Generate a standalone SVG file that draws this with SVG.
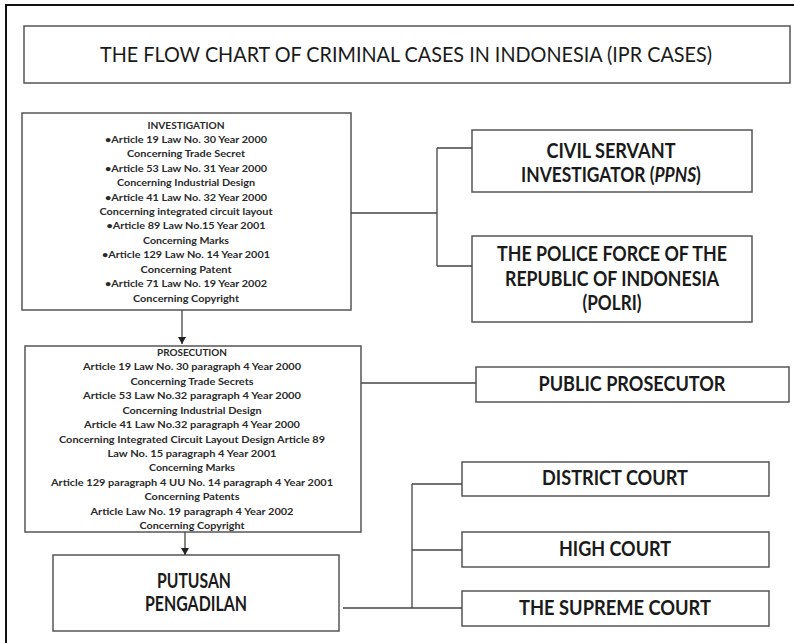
<svg xmlns="http://www.w3.org/2000/svg" width="794" height="643" viewBox="0 0 794 643">
  <style>
    .frame { fill: none; stroke: #111; stroke-width: 2; }
    .box { fill: #fff; stroke: #555; stroke-width: 1.5; }
    .wire { fill: none; stroke: #444; stroke-width: 1.3; }
    text { font-family: Lato, "Liberation Sans", sans-serif; fill: #1a1a1a; text-anchor: middle; }
    .title { font-size: 21px; font-weight: 400; }
    .lbl { font-size: 20px; font-weight: 700; }
    .small { font-size: 10px; font-weight: 700; fill: #2a2a2a; }
  </style>
  <defs>
    <marker id="arrow" markerUnits="userSpaceOnUse" markerWidth="8" markerHeight="8" refX="7" refY="4" orient="auto">
      <path d="M0,0 L7,4 L0,8 Z" fill="#222"/>
    </marker>
  </defs>

  <rect width="794" height="643" fill="#fff"/>
  <!-- page frame (top and left edges) -->
  <path class="frame" d="M6,643 V5 H794"/>

  <g id="title">
    <rect class="box" x="24" y="26" width="766" height="57"/>
    <text class="title" x="406" y="62" textLength="612" lengthAdjust="spacingAndGlyphs">THE FLOW CHART OF CRIMINAL CASES IN INDONESIA (IPR CASES)</text>
  </g>

  <g id="investigation">
    <rect class="box" x="22" y="113" width="329" height="197"/>
    <text class="small" x="186" y="128.5" textLength="77" lengthAdjust="spacingAndGlyphs">INVESTIGATION</text>
    <text class="small" x="186" y="142.9" textLength="162" lengthAdjust="spacingAndGlyphs">•Article 19 Law No. 30 Year 2000</text>
    <text class="small" x="186" y="157.3" textLength="118" lengthAdjust="spacingAndGlyphs">Concerning Trade Secret</text>
    <text class="small" x="186" y="171.8" textLength="162" lengthAdjust="spacingAndGlyphs">•Article 53 Law No. 31 Year 2000</text>
    <text class="small" x="186" y="186.2" textLength="138" lengthAdjust="spacingAndGlyphs">Concerning Industrial Design</text>
    <text class="small" x="186" y="200.6" textLength="162" lengthAdjust="spacingAndGlyphs">•Article 41 Law No. 32 Year 2000</text>
    <text class="small" x="186" y="215.0" textLength="173" lengthAdjust="spacingAndGlyphs">Concerning integrated circuit layout</text>
    <text class="small" x="186" y="229.4" textLength="159" lengthAdjust="spacingAndGlyphs">•Article 89 Law No.15 Year 2001</text>
    <text class="small" x="186" y="243.9" textLength="86" lengthAdjust="spacingAndGlyphs">Concerning Marks</text>
    <text class="small" x="186" y="258.3" textLength="168" lengthAdjust="spacingAndGlyphs">•Article 129 Law No. 14 Year 2001</text>
    <text class="small" x="186" y="272.7" textLength="91" lengthAdjust="spacingAndGlyphs">Concerning Patent</text>
    <text class="small" x="186" y="287.1" textLength="162" lengthAdjust="spacingAndGlyphs">•Article 71 Law No. 19 Year 2002</text>
    <text class="small" x="186" y="301.5" textLength="106" lengthAdjust="spacingAndGlyphs">Concerning Copyright</text>
  </g>

  <g id="ppns">
    <rect class="box" x="472" y="130" width="280" height="62"/>
    <text class="lbl" x="611" y="158" textLength="129" lengthAdjust="spacingAndGlyphs">CIVIL SERVANT</text>
    <!-- narrowed horizontally so the mixed upright/italic line keeps one text run -->
    <text class="lbl" transform="translate(611,182) scale(0.87,1)" x="0" y="0">INVESTIGATOR (<tspan font-style="italic">PPNS</tspan>)</text>
  </g>

  <g id="polri">
    <rect class="box" x="472" y="236" width="280" height="86"/>
    <text class="lbl" x="612" y="261" textLength="230" lengthAdjust="spacingAndGlyphs">THE POLICE FORCE OF THE</text>
    <text class="lbl" x="612" y="286" textLength="214" lengthAdjust="spacingAndGlyphs">REPUBLIC OF INDONESIA</text>
    <text class="lbl" x="612" y="310" textLength="59" lengthAdjust="spacingAndGlyphs">(POLRI)</text>
  </g>

  <g id="prosecution">
    <rect class="box" x="25" y="346" width="336" height="186"/>
    <text class="small" x="192" y="356" textLength="70" lengthAdjust="spacingAndGlyphs">PROSECUTION</text>
    <text class="small" x="192" y="370.4" textLength="218" lengthAdjust="spacingAndGlyphs">Article 19 Law No. 30 paragraph  4 Year 2000</text>
    <text class="small" x="192" y="384.8" textLength="123" lengthAdjust="spacingAndGlyphs">Concerning Trade Secrets</text>
    <text class="small" x="192" y="399.3" textLength="218" lengthAdjust="spacingAndGlyphs">Article 53 Law No.32 paragraph   4 Year 2000</text>
    <text class="small" x="192" y="413.7" textLength="139" lengthAdjust="spacingAndGlyphs">Concerning Industrial Design</text>
    <text class="small" x="192" y="428.1" textLength="216" lengthAdjust="spacingAndGlyphs">Article 41 Law No.32 paragraph  4 Year 2000</text>
    <text class="small" x="192" y="442.5" textLength="266" lengthAdjust="spacingAndGlyphs">Concerning Integrated Circuit Layout Design Article 89</text>
    <text class="small" x="192" y="456.9" textLength="169" lengthAdjust="spacingAndGlyphs">Law No. 15 paragraph  4 Year 2001</text>
    <text class="small" x="192" y="471.4" textLength="86" lengthAdjust="spacingAndGlyphs">Concerning Marks</text>
    <text class="small" x="192" y="485.8" textLength="282" lengthAdjust="spacingAndGlyphs">Article 129 paragraph  4 UU No. 14 paragraph  4 Year 2001</text>
    <text class="small" x="192" y="500.2" textLength="95" lengthAdjust="spacingAndGlyphs">Concerning Patents</text>
    <text class="small" x="192" y="514.6" textLength="203" lengthAdjust="spacingAndGlyphs">Article Law No. 19 paragraph  4 Year 2002</text>
    <text class="small" x="192" y="529" textLength="105" lengthAdjust="spacingAndGlyphs">Concerning Copyright</text>
  </g>

  <g id="public-prosecutor">
    <rect class="box" x="476" y="367" width="313" height="35"/>
    <text class="lbl" x="632" y="391" textLength="187" lengthAdjust="spacingAndGlyphs">PUBLIC PROSECUTOR</text>
  </g>

  <g id="putusan">
    <rect class="box" x="53" y="555" width="286" height="76"/>
    <text class="lbl" x="194" y="588" textLength="74" lengthAdjust="spacingAndGlyphs">PUTUSAN</text>
    <text class="lbl" x="196" y="611" textLength="102" lengthAdjust="spacingAndGlyphs">PENGADILAN</text>
  </g>

  <g id="district-court">
    <rect class="box" x="462" y="462" width="307" height="34"/>
    <text class="lbl" x="615" y="485" textLength="146" lengthAdjust="spacingAndGlyphs">DISTRICT COURT</text>
  </g>

  <g id="high-court">
    <rect class="box" x="462" y="532" width="307" height="35"/>
    <text class="lbl" x="615" y="556" textLength="112" lengthAdjust="spacingAndGlyphs">HIGH COURT</text>
  </g>

  <g id="supreme-court">
    <rect class="box" x="462" y="591" width="307" height="35"/>
    <text class="lbl" x="615" y="615" textLength="192" lengthAdjust="spacingAndGlyphs">THE SUPREME COURT</text>
  </g>

  <g id="connectors">
    <path class="wire" d="M351,213 H437 M437,148 V266 M437,148 H472 M437,266 H472"/>
    <path class="wire" d="M182,310 V344" marker-end="url(#arrow)"/>
    <path class="wire" d="M361,383 H476"/>
    <path class="wire" d="M185,532 V555" marker-end="url(#arrow)"/>
    <path class="wire" d="M343,608 H462 M412,484 V608 M412,484 H462 M412,550 H462"/>
  </g>
</svg>
